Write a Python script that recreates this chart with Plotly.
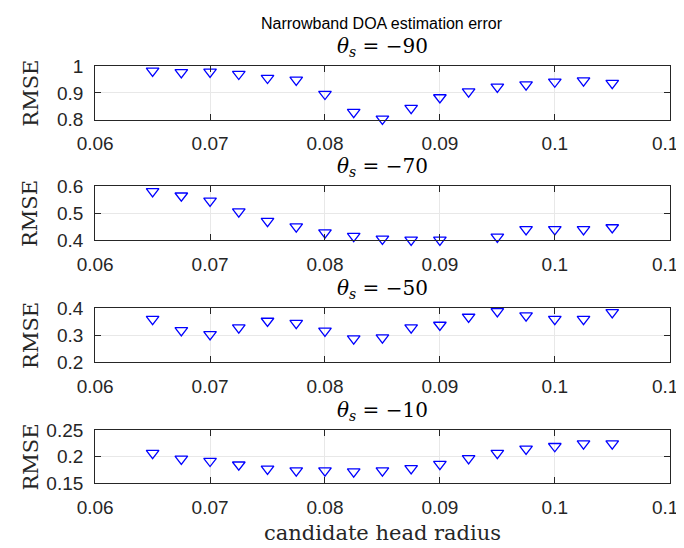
import plotly.graph_objects as go

radius = [0.065, 0.0675, 0.07, 0.0725, 0.075, 0.0775, 0.08, 0.0825, 0.085,
          0.0875, 0.09, 0.0925, 0.095, 0.0975, 0.1, 0.1025, 0.105]

rmse_m90 = [0.983, 0.977, 0.979, 0.971, 0.956, 0.949, 0.896, 0.828, 0.803,
            0.843, 0.883, 0.905, 0.923, 0.931, 0.942, 0.946, 0.937]
rmse_m70 = [0.581, 0.565, 0.546, 0.506, 0.471, 0.450, 0.428, 0.415, 0.405,
            0.401, 0.401, 0.397, 0.412, 0.440, 0.440, 0.440, 0.447]
rmse_m50 = [0.360, 0.318, 0.303, 0.328, 0.353, 0.345, 0.316, 0.287, 0.291,
            0.328, 0.338, 0.368, 0.389, 0.373, 0.360, 0.360, 0.385]
rmse_m10 = [0.207, 0.196, 0.192, 0.185, 0.177, 0.174, 0.174, 0.172, 0.174,
            0.178, 0.186, 0.197, 0.207, 0.215, 0.220, 0.225, 0.225]

angles = ["−90", "−70", "−50", "−10"]
series = [rmse_m90, rmse_m70, rmse_m50, rmse_m10]
y_ranges = [[0.8, 1.0], [0.4, 0.6], [0.2, 0.4], [0.15, 0.25]]
y_ticks = [[0.8, 0.9, 1.0], [0.4, 0.5, 0.6], [0.2, 0.3, 0.4], [0.15, 0.2, 0.25]]
y_ticktext = [["0.8", "0.9", "1"], ["0.4", "0.5", "0.6"], ["0.2", "0.3", "0.4"],
              ["0.15", "0.2", "0.25"]]
x_ticks = [0.06, 0.07, 0.08, 0.09, 0.1, 0.11]
x_ticktext = ["0.06", "0.07", "0.08", "0.09", "0.1", "0.11"]

W, H = 684, 548
# The page shows the figure's paper at this screen offset / size
OX, OY, PW, PH = 24.3, 17, 648.5, 529


def fx(px):
    return (px - OX) / PW


def fy(py):
    return 1 - (py - OY) / PH


# screen pixel positions (top, bottom) of each axes box
boxes = [(65.5, 119), (186, 240), (308.5, 362.3), (431, 484)]
x_left, x_right = 93.5, 668.5

fig = go.Figure()
annotations = []
for i, (vals, ang, yr, yt, ytt, (top, bot)) in enumerate(
        zip(series, angles, y_ranges, y_ticks, y_ticktext, boxes)):
    n = i + 1
    xa = "x" if n == 1 else f"x{n}"
    ya = "y" if n == 1 else f"y{n}"
    fig.add_trace(go.Scatter(
        x=radius, y=vals, mode="markers", xaxis=xa, yaxis=ya,
        marker=dict(symbol="triangle-down-open", size=11, color="#0000ff",
                    line=dict(width=1.3, color="#0000ff")),
        showlegend=False, cliponaxis=False))
    axis_common = dict(showline=True, linecolor="#262626", linewidth=1,
                       mirror="ticks", ticks="inside", ticklen=6,
                       tickcolor="#262626", showgrid=True, gridcolor="#e8e8e8",
                       gridwidth=1, zeroline=False, ticklabelstandoff=7,
                       tickfont=dict(family="Liberation Sans", size=19,
                                     color="#262626"))
    fig.update_layout(**{
        ("xaxis" if n == 1 else f"xaxis{n}"): dict(
            domain=[fx(x_left), fx(x_right)], range=[0.06, 0.11],
            tickvals=x_ticks, ticktext=x_ticktext, anchor=ya,
            ticklabeloverflow="allow", **axis_common),
        ("yaxis" if n == 1 else f"yaxis{n}"): dict(
            domain=[fy(bot), fy(top)], range=yr,
            tickvals=yt, ticktext=ytt, anchor=xa, **axis_common),
    })
    annotations.append(dict(
        text=f"<i>θ</i><sub><i>s</i></sub> = {ang}", xref="paper", yref="paper",
        x=fx((x_left + x_right) / 2), y=fy(top - 4), xanchor="center",
        yanchor="bottom", showarrow=False,
        font=dict(family="DejaVu Serif", size=20, color="black")))
    annotations.append(dict(
        text="RMSE", xref="paper", yref="paper", x=fx(29),
        y=fy((top + bot) / 2), xanchor="center", yanchor="middle",
        textangle=-90, showarrow=False,
        font=dict(family="DejaVu Serif", size=21, color="#262626")))

annotations.append(dict(
    text="Narrowband DOA estimation error", xref="paper", yref="paper",
    x=fx((x_left + x_right) / 2), y=fy(23), xanchor="center",
    yanchor="middle", showarrow=False,
    font=dict(family="Liberation Sans", size=16, color="black")))
annotations.append(dict(
    text="candidate head radius", xref="paper", yref="paper",
    x=fx((x_left + x_right) / 2), y=fy(534), xanchor="center",
    yanchor="middle", showarrow=False,
    font=dict(family="DejaVu Serif", size=21, color="#262626")))

fig.update_layout(width=W, height=H, margin=dict(l=0, r=0, t=0, b=0),
                  paper_bgcolor="white", plot_bgcolor="white",
                  annotations=annotations)
fig.write_html("out.html")
